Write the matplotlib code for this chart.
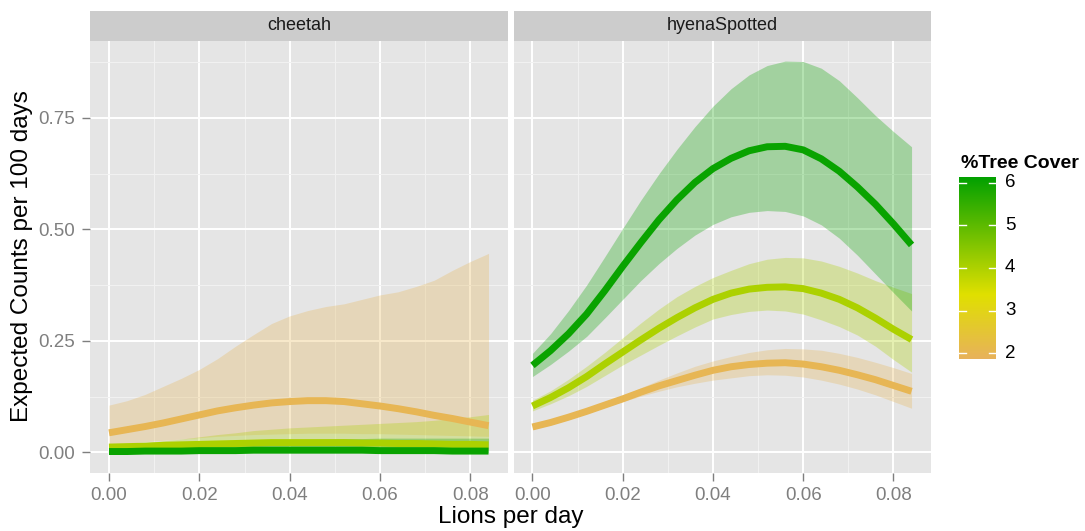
import numpy as np
import matplotlib.pyplot as plt
from matplotlib.colors import LinearSegmentedColormap, Normalize

plt.rcParams['font.family'] = ['Liberation Sans', 'DejaVu Sans']

# predicted counts from the model, lions-per-day grid shared by both species
lions = [0.000, 0.004, 0.008, 0.012, 0.016, 0.020, 0.024, 0.028, 0.032, 0.036, 0.040,
         0.044, 0.048, 0.052, 0.056, 0.060, 0.064, 0.068, 0.072, 0.076, 0.080, 0.084]
tree_levels = [2, 4, 6]
species = ['cheetah', 'hyenaSpotted']

# cheetah
cheetah_fit_2 = [0.044, 0.051, 0.058, 0.066, 0.075, 0.084, 0.093, 0.100, 0.106, 0.111, 0.114,
                 0.116, 0.116, 0.114, 0.109, 0.104, 0.098, 0.091, 0.083, 0.076, 0.068, 0.060]
cheetah_lo_2 = [0.016, 0.020, 0.024, 0.027, 0.030, 0.033, 0.036, 0.038, 0.040, 0.041, 0.042,
                0.043, 0.043, 0.043, 0.042, 0.042, 0.041, 0.040, 0.039, 0.038, 0.037, 0.036]
cheetah_hi_2 = [0.106, 0.116, 0.130, 0.148, 0.166, 0.186, 0.210, 0.238, 0.264, 0.289, 0.306,
                0.318, 0.327, 0.333, 0.343, 0.353, 0.360, 0.372, 0.386, 0.408, 0.428, 0.446]
cheetah_fit_4 = [0.012, 0.013, 0.014, 0.016, 0.017, 0.018, 0.019, 0.020, 0.021, 0.022, 0.022,
                 0.022, 0.022, 0.022, 0.021, 0.021, 0.020, 0.020, 0.019, 0.018, 0.018, 0.017]
cheetah_lo_4 = [0.009, 0.009, 0.009, 0.010, 0.010, 0.010, 0.010, 0.010, 0.010, 0.010, 0.009,
                0.009, 0.009, 0.009, 0.008, 0.008, 0.008, 0.007, 0.007, 0.007, 0.006, 0.006]
cheetah_hi_4 = [0.015, 0.018, 0.022, 0.026, 0.030, 0.035, 0.040, 0.044, 0.049, 0.052, 0.055,
                0.057, 0.059, 0.061, 0.063, 0.065, 0.067, 0.069, 0.072, 0.076, 0.080, 0.085]
cheetah_fit_6 = [0.002, 0.002, 0.003, 0.003, 0.003, 0.004, 0.004, 0.004, 0.005, 0.005, 0.005,
                 0.005, 0.005, 0.005, 0.005, 0.004, 0.004, 0.004, 0.004, 0.003, 0.003, 0.003]
cheetah_lo_6 = [0.000] * 22
cheetah_hi_6 = [0.004, 0.007, 0.009, 0.012, 0.014, 0.017, 0.020, 0.022, 0.024, 0.026, 0.028,
                0.029, 0.030, 0.031, 0.031, 0.032, 0.032, 0.032, 0.032, 0.032, 0.032, 0.032]

# spotted hyena
hyena_fit_2 = [0.057, 0.067, 0.079, 0.092, 0.106, 0.120, 0.135, 0.149, 0.161, 0.173, 0.184,
               0.192, 0.197, 0.200, 0.201, 0.198, 0.192, 0.184, 0.174, 0.163, 0.150, 0.137]
hyena_lo_2 = [0.052, 0.062, 0.074, 0.087, 0.101, 0.114, 0.126, 0.137, 0.147, 0.155, 0.162,
              0.167, 0.172, 0.174, 0.173, 0.169, 0.162, 0.153, 0.142, 0.129, 0.114, 0.099]
hyena_hi_2 = [0.062, 0.072, 0.084, 0.097, 0.111, 0.127, 0.145, 0.162, 0.178, 0.193, 0.205,
              0.215, 0.224, 0.230, 0.233, 0.232, 0.229, 0.222, 0.213, 0.202, 0.190, 0.177]
hyena_fit_4 = [0.104, 0.123, 0.145, 0.170, 0.198, 0.225, 0.252, 0.278, 0.302, 0.324, 0.343,
               0.357, 0.366, 0.370, 0.371, 0.367, 0.357, 0.343, 0.324, 0.301, 0.276, 0.253]
hyena_lo_4 = [0.093, 0.109, 0.127, 0.148, 0.172, 0.196, 0.218, 0.240, 0.261, 0.281, 0.299,
              0.309, 0.316, 0.319, 0.317, 0.310, 0.297, 0.282, 0.263, 0.238, 0.208, 0.180]
hyena_hi_4 = [0.117, 0.138, 0.164, 0.193, 0.224, 0.257, 0.290, 0.321, 0.349, 0.372, 0.392,
              0.408, 0.423, 0.433, 0.437, 0.436, 0.429, 0.417, 0.402, 0.385, 0.370, 0.356]
hyena_fit_6 = [0.195, 0.228, 0.266, 0.310, 0.362, 0.417, 0.470, 0.521, 0.566, 0.605, 0.636,
               0.659, 0.676, 0.685, 0.686, 0.678, 0.658, 0.630, 0.595, 0.556, 0.512, 0.465]
hyena_lo_6 = [0.170, 0.197, 0.227, 0.260, 0.301, 0.343, 0.385, 0.423, 0.457, 0.487, 0.511,
              0.528, 0.538, 0.542, 0.540, 0.530, 0.510, 0.480, 0.442, 0.400, 0.358, 0.317]
hyena_hi_6 = [0.222, 0.266, 0.318, 0.375, 0.438, 0.502, 0.565, 0.624, 0.679, 0.730, 0.776,
              0.815, 0.846, 0.867, 0.877, 0.876, 0.861, 0.833, 0.795, 0.755, 0.719, 0.685]

panels = {
    'cheetah': [(cheetah_fit_2, cheetah_lo_2, cheetah_hi_2),
                (cheetah_fit_4, cheetah_lo_4, cheetah_hi_4),
                (cheetah_fit_6, cheetah_lo_6, cheetah_hi_6)],
    'hyenaSpotted': [(hyena_fit_2, hyena_lo_2, hyena_hi_2),
                     (hyena_fit_4, hyena_lo_4, hyena_hi_4),
                     (hyena_fit_6, hyena_lo_6, hyena_hi_6)],
}

cover_min, cover_max = 1.87, 6.13
yellow_at = (3.37 - cover_min) / (cover_max - cover_min)
cmap = LinearSegmentedColormap.from_list(
    'tree', [(0, '#E8B25B'), (yellow_at, '#E0E000'), (1, '#00A000')])
norm = Normalize(cover_min, cover_max)

W, H = 1085, 531
fig = plt.figure(figsize=(W / 100, H / 100), dpi=100)


def box(x0, y0, x1, y1):
    # pixel box (top-left origin) -> figure fraction
    return [x0 / W, 1 - y1 / H, (x1 - x0) / W, (y1 - y0) / H]


panel_x = [(90, 507.5), (513.5, 930.5)]
for i, name in enumerate(species):
    x0, x1 = panel_x[i]
    ax = fig.add_axes(box(x0, 41, x1, 472.5))
    ax.set_facecolor('#E5E5E5')
    for s in ax.spines.values():
        s.set_visible(False)

    for level, (fit, lo, hi) in zip(tree_levels, panels[name]):
        ax.fill_between(lions, lo, hi, color=cmap(norm(level)), alpha=0.3, lw=0, zorder=2)
    for level, (fit, lo, hi) in zip(tree_levels, panels[name]):
        ax.plot(lions, fit, color=cmap(norm(level)), lw=5, solid_capstyle='butt',
                solid_joinstyle='round', zorder=3)

    ax.set_xlim(-0.0042, 0.0882)
    ax.set_ylim(-0.045, 0.922)
    ax.set_xticks([0, 0.02, 0.04, 0.06, 0.08])
    ax.set_xticklabels(['0.00', '0.02', '0.04', '0.06', '0.08'])
    ax.set_xticks([0.01, 0.03, 0.05, 0.07], minor=True)
    ax.set_yticks([0, 0.25, 0.5, 0.75])
    ax.set_yticks([0.125, 0.375, 0.625, 0.875], minor=True)
    ax.grid(which='major', color='white', lw=1.4, zorder=0)
    ax.grid(which='minor', color='#F2F2F2', lw=0.7, zorder=0)
    ax.set_axisbelow(True)
    ax.tick_params(which='major', length=5.8, width=1, color='#7F7F7F',
                   labelcolor='#7F7F7F', labelsize=13.5)
    ax.tick_params(axis='x', which='major', pad=4.3)
    ax.tick_params(axis='y', which='major', pad=5)
    ax.tick_params(which='minor', length=0)
    if i == 0:
        ax.set_yticklabels(['0.00', '0.25', '0.50', '0.75'])
    else:
        ax.tick_params(axis='y', which='major', left=False, labelleft=False)

    # facet strip
    sax = fig.add_axes(box(x0, 11, x1, 41))
    sax.set_facecolor('#CCCCCC')
    sax.set_xticks([])
    sax.set_yticks([])
    for s in sax.spines.values():
        s.set_visible(False)
    sax.text(0.5, 0.5, name, ha='center', va='center', fontsize=13, color='#1A1A1A',
             transform=sax.transAxes)

fig.text(510.5 / W, 1 - 523 / H, 'Lions per day', ha='center', va='baseline', fontsize=17.5)
fig.text(22.5 / W, 1 - 256.5 / H, 'Expected Counts per 100 days', ha='center', va='center',
         rotation=90, fontsize=17.5)

# colour bar legend
fig.text(961 / W, 1 - 163 / H, '%Tree Cover', ha='left', va='center', fontsize=14,
         fontweight='bold')
cax = fig.add_axes(box(959, 177, 996, 359))
grad = np.linspace(cover_min, cover_max, 256).reshape(-1, 1)
cax.imshow(grad, cmap=cmap, norm=norm, aspect='auto', origin='lower',
           extent=[0, 1, cover_min, cover_max])
cax.set_xlim(0, 1)
cax.set_ylim(cover_min, cover_max)
cax.set_xticks([])
cax.set_yticks([])
for s in cax.spines.values():
    s.set_visible(False)
for v in range(2, 7):
    cax.plot([0, 0.2], [v, v], color='white', lw=1)
    cax.plot([0.8, 1], [v, v], color='white', lw=1)
    cax.text(1.24, v, str(v), ha='left', va='center', fontsize=13.5, color='black')

fig.savefig('out.png', dpi=100)
